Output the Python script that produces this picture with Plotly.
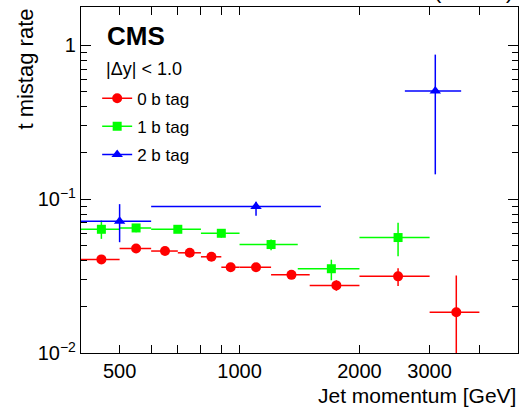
import plotly.graph_objects as go

# ---- data ----
# 0 b tag
red_lo = [400, 500, 600, 700, 800, 900, 1000, 1200, 1500, 2000, 3000]
red_hi = [500, 600, 700, 800, 900, 1000, 1200, 1500, 2000, 3000, 4000]
red_x = [450, 550, 650, 750, 850, 950, 1100, 1350, 1750, 2500, 3500]
red_y = [0.0406, 0.0478, 0.0460, 0.0448, 0.0422, 0.0361, 0.0361, 0.0322, 0.0275, 0.0315, 0.0184]
red_eup = [0.0010, 0.0012, 0.0012, 0.0012, 0.0013, 0.0012, 0.0012, 0.0012, 0.0022, 0.0040, 0.0135]
red_edn = [0.0010, 0.0012, 0.0012, 0.0012, 0.0013, 0.0012, 0.0012, 0.0012, 0.0021, 0.0042, 0.0180]

# 1 b tag
grn_lo = [400, 500, 600, 800, 1000, 1400, 2000]
grn_hi = [500, 600, 800, 1000, 1400, 2000, 3000]
grn_x = [450, 550, 700, 900, 1200, 1700, 2500]
grn_y = [0.0637, 0.0650, 0.0637, 0.0600, 0.0507, 0.0353, 0.0563]
grn_eup = [0.0089, 0.0040, 0.0030, 0.0035, 0.0040, 0.0051, 0.0140]
grn_edn = [0.0085, 0.0040, 0.0030, 0.0038, 0.0042, 0.0056, 0.0138]

# 2 b tag
blu_lo = [400, 600, 2600]
blu_hi = [600, 1600, 3600]
blu_x = [500, 1100, 3100]
blu_y = [0.0718, 0.0897, 0.505]
blu_eup = [0.0210, 0.0066, 0.365]
blu_edn = [0.0193, 0.0116, 0.360]

series = [
    ("0 b tag", red_lo, red_hi, red_x, red_y, red_eup, red_edn, "#ff0000", "circle", 10),
    ("1 b tag", grn_lo, grn_hi, grn_x, grn_y, grn_eup, grn_edn, "#00ff00", "square", 9),
    ("2 b tag", blu_lo, blu_hi, blu_x, blu_y, blu_eup, blu_edn, "#0000ff", "triangle-up", 10),
]

x_major = [500, 1000, 2000, 3000]
x_minor = [600, 700, 800, 900, 4000]
y_major = [0.01, 0.1, 1]
y_major_text = ["10<sup>−2</sup>", "10<sup>−1</sup>", "1"]
y_minor = [k * 0.01 for k in range(2, 10)] + [k * 0.1 for k in range(2, 10)]

FONT = "Liberation Sans, Arial, Helvetica, sans-serif"

fig = go.Figure()
for i, (name, lo, hi, xs, ys, eup, edn, col, sym, sz) in enumerate(series):
    fig.add_trace(go.Scatter(
        x=xs, y=ys, mode="markers", showlegend=False,
        marker=dict(color=col, symbol=sym, size=sz),
        error_x=dict(type="data", symmetric=False,
                     array=[h - x for h, x in zip(hi, xs)],
                     arrayminus=[x - l for l, x in zip(lo, xs)],
                     color=col, thickness=1.5, width=0),
        error_y=dict(type="data", symmetric=False, array=eup, arrayminus=edn,
                     color=col, thickness=1.5, width=0),
    ))
for i, (name, lo, hi, xs, ys, eup, edn, col, sym, sz) in enumerate(series):
    fig.add_trace(go.Scatter(
        x=[None], y=[None], mode="lines+markers", name=name, legendgroup=f"g{i}",
        line=dict(color=col, width=1.5),
        marker=dict(color=col, symbol=sym, size=sz),
    ))

common_x = dict(type="log", range=[2.60206, 3.69897], showgrid=False, zeroline=False,
                ticks="inside", tickcolor="black", tickwidth=1.2, automargin=False)

fig.update_layout(
    width=532, height=411,
    margin=dict(l=81, r=14, t=7, b=58, autoexpand=False),
    plot_bgcolor="white", paper_bgcolor="white",
    font=dict(family=FONT, color="black"),
    xaxis=dict(**common_x, tickvals=x_major, ticktext=[str(v) for v in x_major],
               ticklen=8, showline=True, linecolor="black", linewidth=1.3,
               mirror="allticks", tickfont=dict(size=20),
               minor=dict(tickvals=x_minor, ticks="inside", ticklen=8,
                          tickcolor="black", tickwidth=1.2, showgrid=False)),
    xaxis2=dict(**common_x, overlaying="x", anchor="y", side="bottom",
                tickvals=[1000], ticklen=17, showticklabels=False,
                mirror="allticks", showline=False),
    yaxis=dict(type="log", range=[-2, 0.249], showgrid=False, zeroline=False,
               automargin=False,
               tickvals=y_major, ticktext=y_major_text, ticks="inside", ticklen=10,
               tickcolor="black", tickwidth=1.2, showline=True, linecolor="black",
               linewidth=1.3, mirror="allticks", tickfont=dict(size=20),
               minor=dict(tickvals=y_minor, ticks="inside", ticklen=6,
                          tickcolor="black", tickwidth=1.2, showgrid=False)),
    legend=dict(x=0.037, y=0.787, xanchor="left", yanchor="top",
                bgcolor="rgba(0,0,0,0)", font=dict(size=17), tracegroupgap=3),
    annotations=[
        dict(text="<b>CMS</b>", xref="paper", yref="paper", x=0.0549, y=0.917,
             xanchor="left", yanchor="middle", showarrow=False, font=dict(size=26)),
        dict(text="|Δy| &lt; 1.0", xref="paper", yref="paper", x=0.0526, y=0.8217,
             xanchor="left", yanchor="middle", showarrow=False, font=dict(size=18)),
        dict(text="Jet momentum [GeV]", xref="paper", yref="paper", x=1.0, y=-0.1234,
             xanchor="right", yanchor="middle", showarrow=False, font=dict(size=21)),
        dict(text="t mistag rate", xref="paper", yref="paper", x=-0.128, y=1.0,
             xanchor="center", yanchor="top", textangle=-90, showarrow=False,
             font=dict(size=22)),
        dict(text="2.6 fb<sup>−1</sup> (13 TeV)", xref="paper", yref="paper",
             x=0.993, y=1.0, xanchor="right", yanchor="bottom", yshift=2,
             showarrow=False, font=dict(size=21)),
    ],
)

fig.write_html("out.html", config={"displayModeBar": False},
               post_script="document.body.style.margin='0';document.body.style.overflow='hidden';")
